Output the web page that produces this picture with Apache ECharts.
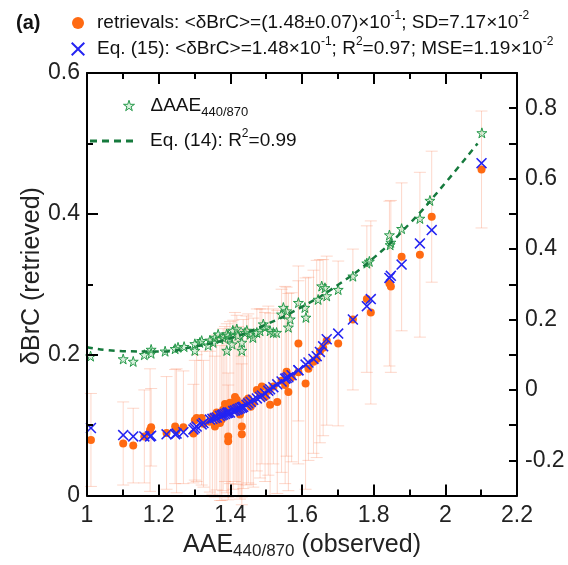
<!DOCTYPE html>
<html>
<head>
<meta charset="utf-8">
<script src="https://cdn.jsdelivr.net/npm/echarts@6/dist/echarts.min.js"></script>
<style>html,body{margin:0;padding:0;background:#fff}#c{width:568px;height:565px}</style>
</head>
<body>
<div id="c"></div>
<script>
// Observed AAE (x), retrieved δBrC, its uncertainty, Eq.(15) estimate
const aaeObs = [1.011,1.101,1.129,1.160,1.176,1.179,1.222,1.246,1.250,1.269,1.297,1.301,
  1.306,1.320,1.325,1.343,1.350,1.357,1.362,1.371,1.376,1.380,1.385,1.390,1.394,1.394,
  1.399,1.408,1.413,1.418,1.422,1.427,1.432,1.432,1.436,1.445,1.450,1.457,1.464,1.474,
  1.483,1.488,1.497,1.506,1.511,1.520,1.531,1.543,1.553,1.557,1.562,1.571,1.590,1.590,
  1.610,1.618,1.632,1.641,1.650,1.659,1.669,1.701,1.742,1.781,1.792,1.844,1.848,1.878,
  1.929,1.962,2.101];
const retrieved = [0.079,0.074,0.071,0.084,0.093,0.097,0.089,0.098,0.092,0.097,0.088,0.107,
  0.110,0.110,0.102,0.105,0.112,0.098,0.118,0.103,0.108,0.122,0.130,0.124,0.084,0.077,
  0.132,0.129,0.140,0.136,0.120,0.115,0.098,0.087,0.130,0.135,0.138,0.126,0.132,0.150,
  0.145,0.155,0.140,0.149,0.129,0.155,0.133,0.163,0.157,0.176,0.147,0.168,0.216,0.175,
  0.159,0.180,0.190,0.194,0.205,0.210,0.220,0.216,0.250,0.279,0.260,0.301,0.297,0.339,
  0.342,0.396,0.463];
const retrievedErr = [0.066,0.059,0.053,0.066,0.087,0.055,0.080,0.081,0.088,0.080,0.070,0.085,
  0.090,0.095,0.090,0.100,0.110,0.100,0.110,0.110,0.115,0.115,0.110,0.120,0.090,0.080,
  0.115,0.120,0.120,0.120,0.120,0.120,0.100,0.100,0.120,0.120,0.120,0.110,0.120,0.115,
  0.120,0.110,0.120,0.120,0.130,0.110,0.130,0.130,0.140,0.120,0.140,0.120,0.110,0.130,
  0.150,0.130,0.130,0.140,0.130,0.125,0.120,0.117,0.100,0.104,0.130,0.117,0.122,0.105,
  0.117,0.093,0.083];
const eq15 = [0.096,0.086,0.084,0.084,0.084,0.085,0.087,0.087,0.088,0.090,0.094,0.096,
  0.098,0.101,0.103,0.108,0.109,0.110,0.111,0.113,0.114,0.115,0.116,0.117,0.118,0.118,
  0.118,0.120,0.121,0.122,0.123,0.124,0.125,0.125,0.126,0.129,0.131,0.133,0.136,0.138,
  0.140,0.142,0.145,0.149,0.151,0.154,0.158,0.162,0.166,0.167,0.168,0.171,0.178,0.178,
  0.186,0.189,0.194,0.198,0.204,0.212,0.222,0.230,0.250,0.269,0.279,0.309,0.312,0.328,
  0.358,0.377,0.472];
// ΔAAE440/870 (right axis)
const starX = [1.010,1.101,1.129,1.160,1.179,1.179,1.218,1.246,1.254,1.271,
  1.301,1.301,1.315,1.320,1.338,1.343,1.352,1.357,1.366,1.371,
  1.380,1.390,1.390,1.394,1.399,1.405,1.407,1.418,1.421,1.432,
  1.432,1.441,1.446,1.455,1.463,1.474,1.483,1.492,1.497,1.511,
  1.520,1.529,1.543,1.548,1.557,1.562,1.567,1.590,1.608,1.611,
  1.645,1.655,1.664,1.669,1.701,1.742,1.781,1.788,1.844,1.846,
  1.848,1.878,1.929,1.957,2.102];
const starY = [0.096,0.088,0.081,0.100,0.115,0.104,0.110,0.117,0.121,0.123,
  0.131,0.112,0.135,0.140,0.127,0.141,0.135,0.149,0.158,0.145,
  0.149,0.159,0.112,0.155,0.147,0.130,0.169,0.173,0.155,0.135,
  0.112,0.163,0.169,0.158,0.149,0.163,0.168,0.187,0.178,0.168,
  0.163,0.163,0.215,0.234,0.224,0.178,0.201,0.248,0.234,0.206,
  0.257,0.295,0.290,0.267,0.285,0.323,0.360,0.365,0.440,0.412,
  0.419,0.458,0.487,0.538,0.730];
// Eq. (14) fit curve
const eq14X = [1.0,1.1,1.2,1.3,1.4,1.5,1.6,1.7,1.8,1.9,2.0,2.09];
const eq14Y = [0.121,0.110,0.109,0.123,0.147,0.186,0.236,0.298,0.375,0.472,0.588,0.700];

const FONT = "'Liberation Sans', Arial, Helvetica, sans-serif";
const STAR = 'path://M50,0L61,35L98,35L68,57L79,91L50,70L21,91L32,57L2,35L39,35Z';
const CROSS = 'path://M0,1L1,0L5,4L9,0L10,1L6,5L10,9L9,10L5,6L1,10L0,9L4,5Z';
const DASHICON = 'path://M0,0L7,0L7,3L0,3Z M12,0L19,0L19,3L12,3Z M24,0L31,0L31,3L24,3Z M36,0L43,0L43,3L36,3Z';
const ORANGE = '#ff6a12', BLUE = '#2424f2', GREEN = '#26994a', DGREEN = '#167a3d';
const STARFILL = 'rgba(150,215,160,0.35)';

const richLeg = {
  t: {fontSize: 19, fontFamily: FONT, color: '#111', lineHeight: 26},
  sup: {fontSize: 12, fontFamily: FONT, color: '#111', lineHeight: 14, verticalAlign: 'top'},
  sub: {fontSize: 13, fontFamily: FONT, color: '#111', lineHeight: 12, verticalAlign: 'bottom'}
};
const legNames = {
  'retrievals': '{t|retrievals: <δBrC>=(1.48±0.07)×10}{sup|-1}{t|; SD=7.17×10}{sup|-2}',
  'Eq15': '{t|Eq. (15): <δBrC>=1.48×10}{sup|-1}{t|; R}{sup|2}{t|=0.97; MSE=1.19×10}{sup|-2}',
  'dAAE': '{t|ΔAAE}{sub|440/870}',
  'Eq14': '{t|Eq. (14): R}{sup|2}{t|=0.99}'
};
function leg(item, left, top, w, h, pad) {
  return {
    data: [item], left: left, top: top, itemWidth: w, itemHeight: h,
    selectedMode: false, padding: 0,
    formatter: n => legNames[n],
    textStyle: {rich: richLeg, padding: [0, 0, 0, pad]}
  };
}

const errData = aaeObs.map((x, i) => [x, retrieved[i] - retrievedErr[i], retrieved[i] + retrievedErr[i]]);
const orangeData = aaeObs.map((x, i) => [x, retrieved[i]]);
const blueData = aaeObs.map((x, i) => [x, eq15[i]]);
const starData = starX.map((x, i) => [x, starY[i]]);
const eq14Data = eq14X.map((x, i) => [x, eq14Y[i]]);

const axLine = () => ({show: true, onZero: false, lineStyle: {color: '#000', width: 2}});
const tickMaj = () => ({show: true, inside: true, length: 11, lineStyle: {width: 2, color: '#000'}});
const tickMin = () => ({show: true, splitNumber: 2, length: 6, lineStyle: {width: 2, color: '#000'}});
const chart = echarts.init(document.getElementById('c'), null, {renderer: 'canvas'});
chart.setOption({
  animation: false,
  backgroundColor: '#fff',
  title: {text: '(a)', left: 11, top: 8, textStyle: {fontFamily: FONT, fontWeight: 'bold', fontSize: 20, color: '#111'}},
  legend: [
    leg({name: 'retrievals', icon: 'circle'}, 72, 10, 12, 12, 8),
    leg({name: 'Eq15', icon: CROSS}, 71, 36, 14, 14, 7),
    leg({name: 'dAAE', icon: STAR, itemStyle: {color: STARFILL, borderColor: GREEN, borderWidth: 1}}, 123, 96, 11, 11, 11),
    leg({name: 'Eq14', icon: DASHICON, itemStyle: {color: DGREEN}}, 90, 128, 43, 3, 12)
  ],
  graphic: [
    {type: 'text', x: 32, y: 276, rotation: Math.PI / 2, silent: true,
     style: {text: 'δBrC (retrieved)', fill: '#222', font: '25px ' + FONT, align: 'center', verticalAlign: 'middle'}}
  ],
  grid: {left: 87, right: 51, top: 73, bottom: 65, containLabel: false},
  xAxis: [
    {type: 'value', position: 'bottom', min: 1, max: 2.2, interval: 0.2, z: 10,
     axisLine: axLine(), splitLine: {show: false}, axisTick: tickMaj(), minorTick: tickMin(),
     axisLabel: {fontFamily: FONT, fontSize: 23, color: '#222', margin: 9},
     name: '{m|AAE}{sub|440/870}{m| (observed)}', nameLocation: 'middle', nameGap: 31,
     nameTextStyle: {fontFamily: FONT, fontSize: 25, color: '#222',
       rich: {m: {fontFamily: FONT, fontSize: 25, color: '#222', lineHeight: 30},
              sub: {fontFamily: FONT, fontSize: 17, color: '#222', verticalAlign: 'bottom', lineHeight: 14}}}},
    {type: 'value', position: 'top', min: 1, max: 2.2, interval: 0.2, z: 10,
     axisLine: axLine(), splitLine: {show: false}, axisLabel: {show: false},
     axisTick: tickMaj(), minorTick: tickMin()}
  ],
  yAxis: [
    {type: 'value', position: 'left', min: 0, max: 0.6, interval: 0.2, z: 10,
     axisLine: axLine(), splitLine: {show: false}, axisTick: tickMaj(), minorTick: tickMin(),
     axisLabel: {show: true, fontFamily: FONT, fontSize: 23, color: '#222', margin: 7}},
    {type: 'value', position: 'right', min: -0.3, max: 0.9, interval: 0.1, z: 10,
     axisLine: axLine(), splitLine: {show: false},
     axisTick: {show: true, inside: true, length: 8, lineStyle: {width: 2, color: '#000'}},
     axisLabel: {show: true, fontFamily: FONT, fontSize: 23, color: '#222', margin: 8,
       showMinLabel: true, showMaxLabel: true,
       formatter: v => {
         const k = Math.round(v * 10);
         if (k % 2 !== 0) return '';
         return k === 0 ? '0' : (k / 10).toFixed(1);
       }}}
  ],
  series: [
    {type: 'custom', name: 'err', xAxisIndex: 0, yAxisIndex: 0, data: errData, z: 1,
     encode: {x: 0, y: [1, 2]}, silent: true,
     renderItem: function (params, api) {
       const x = api.value(0);
       const p1 = api.coord([x, api.value(1)]);
       const p2 = api.coord([x, api.value(2)]);
       const w = 6;
       const st = {stroke: 'rgba(250,130,90,0.32)', lineWidth: 1};
       return {type: 'group', children: [
         {type: 'line', shape: {x1: p1[0], y1: p1[1], x2: p2[0], y2: p2[1]}, style: st},
         {type: 'line', shape: {x1: p1[0] - w, y1: p1[1], x2: p1[0] + w, y2: p1[1]}, style: st},
         {type: 'line', shape: {x1: p2[0] - w, y1: p2[1], x2: p2[0] + w, y2: p2[1]}, style: st}
       ]};
     }},
    {type: 'scatter', name: 'dAAE', xAxisIndex: 0, yAxisIndex: 1, data: starData, z: 3,
     symbol: STAR, symbolSize: 10,
     itemStyle: {color: STARFILL, borderColor: GREEN, borderWidth: 1, opacity: 1}},
    {type: 'line', name: 'Eq14', xAxisIndex: 0, yAxisIndex: 1, data: eq14Data, z: 4,
     smooth: true, symbol: 'none', itemStyle: {color: DGREEN},
     lineStyle: {color: DGREEN, width: 2.5, type: [6, 5]}},
    {type: 'scatter', name: 'retrievals', xAxisIndex: 0, yAxisIndex: 0, data: orangeData, z: 5,
     symbol: 'circle', symbolSize: 8, itemStyle: {color: ORANGE, opacity: 1}},
    {type: 'scatter', name: 'Eq15', xAxisIndex: 0, yAxisIndex: 0, data: blueData, z: 6,
     symbol: CROSS, symbolSize: 11, itemStyle: {color: BLUE, opacity: 1},
     markLine: {silent: true, symbol: 'none', animation: false, label: {show: false},
       lineStyle: {color: '#000', width: 2, type: 'solid'}, data: [{xAxis: 1}]}}
  ]
});
</script>
</body>
</html>
